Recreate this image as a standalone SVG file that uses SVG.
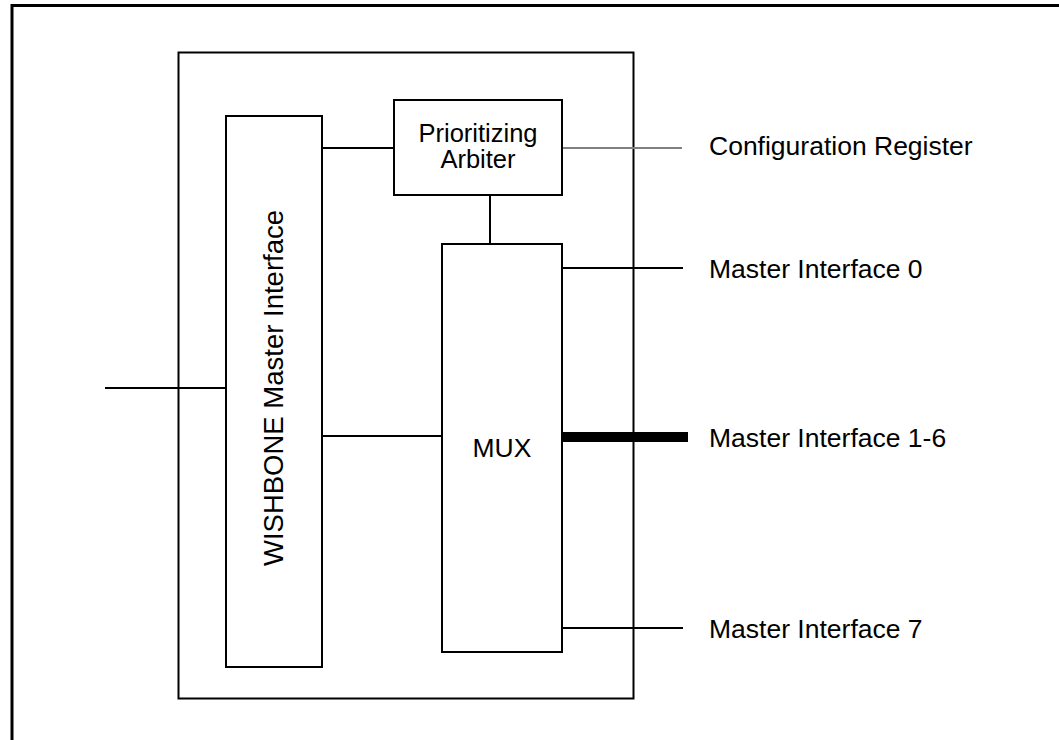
<svg xmlns="http://www.w3.org/2000/svg" width="1059" height="740" viewBox="0 0 1059 740">
<style>
.box{fill:#fff;stroke:#000;stroke-width:2}
.ln{stroke:#000;stroke-width:2;fill:none}
text{font-family:"Liberation Sans",Arial,sans-serif;font-size:26.5px;fill:#000}
.c{text-anchor:middle}
.arb{font-size:25.5px}
</style>
<rect width="1059" height="740" fill="#fff"/>
<g id="frame">
<path d="M12,740 V5.5 H1059" fill="none" stroke="#000" stroke-width="3"/>
</g>
<g id="container">
<rect class="box" x="178.5" y="52.5" width="455" height="646"/>
</g>
<g id="connectors">
<line class="ln" x1="105" y1="388" x2="226" y2="388"/>
<line class="ln" x1="322" y1="148" x2="394" y2="148"/>
<line x1="562" y1="148" x2="682" y2="148" stroke="#808080" stroke-width="2"/>
<line class="ln" x1="490" y1="195" x2="490" y2="244"/>
<line class="ln" x1="322" y1="436" x2="442" y2="436"/>
<line class="ln" x1="562" y1="268" x2="683" y2="268"/>
<line x1="562" y1="437" x2="688" y2="437" stroke="#000" stroke-width="10"/>
<line class="ln" x1="562" y1="628" x2="683" y2="628"/>
</g>
<g id="wishbone">
<rect class="box" x="226" y="116" width="96" height="551"/>
<text class="c" style="font-size:27.5px" transform="translate(283,388) rotate(-90)">WISHBONE Master Interface</text>
</g>
<g id="arbiter">
<rect class="box" x="394" y="100" width="168" height="95"/>
<text class="c arb" x="478" y="142">Prioritizing</text>
<text class="c arb" x="478" y="168">Arbiter</text>
</g>
<g id="mux">
<rect class="box" x="442" y="244" width="120" height="408"/>
<text class="c" x="502" y="457">MUX</text>
</g>
<g id="labels">
<text x="709" y="155">Configuration Register</text>
<text x="709" y="278">Master Interface 0</text>
<text x="709" y="447">Master Interface 1-6</text>
<text x="709" y="638">Master Interface 7</text>
</g>
</svg>
